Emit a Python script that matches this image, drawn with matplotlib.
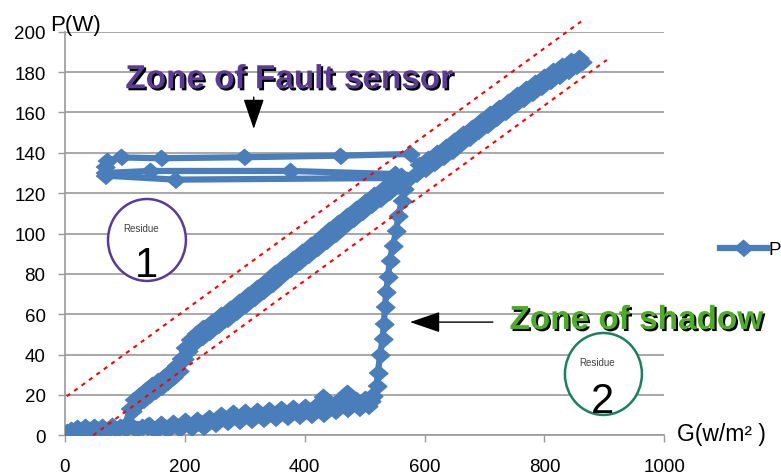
import matplotlib
matplotlib.use("Agg")
import matplotlib.pyplot as plt
import matplotlib.patheffects as pe
from matplotlib.patches import Ellipse

plt.rcParams['font.family'] = ['Liberation Sans', 'DejaVu Sans']

# --- data: G (w/m2) vs P (W), in drawing order ---
start_g = [0, 3, 6, 10, 15, 20, 26, 33, 40, 48, 55, 62, 70, 78, 85, 92, 100, 110, 118, 128, 137]
start_p = [0, 1.5, 0.5, 2.5, 1.5, 3.5, 2, 4, 2.5, 4, 2.5, 4, 2.5, 4.5, 2.5, 4, 3, 4.5, 2.5, 4, 4]

bottom_low_g = [150, 170, 190, 210, 230, 250, 270, 290, 310, 330, 350, 370, 390, 410, 430, 450, 470, 490, 505]
bottom_low_p = [2, 2.5, 3, 3.8, 4.3, 5.5, 6.7, 7.3, 7.7, 8, 8.5, 8.9, 9.5, 10, 10.7, 12, 12.8, 13.5, 14.5]

bottom_high_g = [512, 500, 485, 470, 455, 440, 431, 420, 400, 380, 360, 340, 320, 300, 280, 260, 240, 220, 200, 180, 160, 140]
bottom_high_p = [19.5, 18, 17.5, 21, 17, 16, 19, 15, 14, 13.3, 12.8, 12.3, 12, 11.5, 11, 10, 8.8, 7.8, 7, 6.2, 5.6, 5]

diag_up_g = [105, 112, 120, 130, 140, 150, 160, 170, 180, 190, 198, 205, 215, 228, 240, 255, 270, 285, 300, 315,
             330, 345, 360, 375, 390, 405, 420, 435, 450, 465, 480, 495, 510, 525, 540, 555, 570, 585, 600, 615,
             630, 645, 660, 675, 690, 705, 720, 735, 750, 765, 780, 795, 810, 825, 840, 852, 862]
diag_up_p = [6, 12, 15.5, 17.5, 20, 22, 24, 26.5, 29, 32, 38, 42, 45.5, 48.5, 51, 54.5, 57.5, 61, 64.5, 68,
             71.5, 75, 79, 82.5, 86, 89.5, 93, 96.5, 100, 103.5, 107, 110.5, 114, 117, 120.5, 123.5, 126.5, 129.5, 132, 135,
             138, 141, 144.5, 147.5, 151, 154, 157, 160, 163.5, 166.5, 169.5, 172.5, 175.5, 178, 180.5, 183, 185]

diag_down_top_g = [858, 845, 830, 815, 800, 785, 770, 755, 740, 725, 710, 695, 680, 665, 650, 635, 620, 605, 590]
diag_down_top_p = [187, 185.5, 183, 180.5, 177.5, 174.5, 171.5, 168.5, 165, 162, 159, 156, 152.5, 149.5, 146, 143, 140, 137, 134]

fault_high_g = [576, 459, 299, 160, 93, 70, 66, 67]
fault_high_p = [139.4, 138.6, 137.8, 137.3, 137.7, 136, 133, 130]
fault_mid_g = [142, 375, 550]
fault_mid_p = [131, 131, 129.5]

diag_down_rest_g = [560, 545, 530, 515, 500, 485, 470, 455, 440, 425, 410, 395, 380, 365, 350, 335, 320, 305,
                    290, 275, 260, 245, 230, 218, 208, 200, 193, 185, 175, 165, 155, 145, 135, 125, 115, 108]
diag_down_rest_p = [128.5, 125.5, 122, 119, 115.5, 112, 108.5, 105, 101.5, 98, 94.5, 91, 87.5, 84, 80.5, 76.5, 73, 69.5,
                    66, 62.5, 59.5, 56, 53, 50, 47, 43.5, 38, 34.5, 31.5, 29, 27, 25, 22.5, 20, 17.5, 13]

bottom_mid_g = [100, 137, 157, 177, 197, 217, 237, 257, 277, 297, 317, 337, 357, 377, 397, 417, 437, 457, 477, 497, 510]
bottom_mid_p = [4, 4.5, 4.3, 4.8, 5.4, 6, 6.8, 7.8, 9, 9.5, 9.8, 10.2, 10.7, 11.2, 11.7, 12.5, 13.5, 14.3, 15.2, 16.2, 17]

shadow_g = [514, 520, 522, 526, 530, 532, 534, 536, 539, 542, 547, 553, 556, 562, 566]
shadow_p = [19.5, 24.5, 31, 40, 47.7, 55, 63.6, 71, 78.5, 86.5, 94, 101.4, 108.6, 116, 122]

fault_low_g = [545, 184, 67]
fault_low_p = [127.5, 126.7, 128.7]

# red dotted guide lines (end points)
guide_upper_g = [3, 861]
guide_upper_p = [19.3, 205]
guide_lower_g = [47, 904]
guide_lower_p = [0, 186]

x_ticks = [0, 200, 400, 600, 800, 1000]
y_ticks = [0, 20, 40, 60, 80, 100, 120, 140, 160, 180, 200]

BLUE = '#4a7ebb'
GRID = '#9a9a9a'

g = (start_g + bottom_low_g + bottom_high_g + diag_up_g + diag_down_top_g + fault_high_g + fault_mid_g
     + diag_down_rest_g + bottom_mid_g + shadow_g + fault_low_g)
p = (start_p + bottom_low_p + bottom_high_p + diag_up_p + diag_down_top_p + fault_high_p + fault_mid_p
     + diag_down_rest_p + bottom_mid_p + shadow_p + fault_low_p)

diamond = [(-1, 0), (0, 0.87), (1, 0), (0, -0.87)]

fig = plt.figure(figsize=(7.81, 4.77), dpi=100)
ax = fig.add_axes([0.0832, 0.0853, 0.7673, 0.8461])

ax.plot(g, p, color=BLUE, lw=4.5, marker=diamond, ms=13.5, mew=1, mec=BLUE, mfc=BLUE,
        solid_joinstyle='round', label='P', zorder=3)

ax.plot(guide_upper_g, guide_upper_p, color='red', lw=1.5, ls=(0, (2, 2.4)), clip_on=False, zorder=4)
ax.plot(guide_lower_g, guide_lower_p, color='red', lw=1.5, ls=(0, (2, 2.4)), clip_on=False, zorder=4)

ax.set_xlim(0, 1000)
ax.set_ylim(0, 200)
ax.set_xticks(x_ticks)
ax.set_yticks(y_ticks)
ax.tick_params(axis='x', direction='out', length=5, width=1, color=GRID, labelsize=13.5, pad=11)
ax.tick_params(axis='y', direction='out', length=5, width=1, color=GRID, labelsize=13.5, pad=9)
ax.yaxis.grid(True, color=GRID, lw=1.2)
ax.set_axisbelow(True)
for side in ['top', 'right']:
    ax.spines[side].set_visible(False)
for side in ['left', 'bottom']:
    ax.spines[side].set_color(GRID)
    ax.spines[side].set_linewidth(1.2)

# axis titles
ax.text(-25, 201, "P(W)", fontsize=16, ha='left', va='baseline', clip_on=False)
ax.text(1021, -2.2, "G(w/m² )", fontsize=16.5, ha='left', va='baseline', clip_on=False)

# zone labels with shadow
shadow = [pe.SimplePatchShadow(offset=(1.5, -1.5), shadow_rgbFace='black', alpha=1.0), pe.Normal()]
ax.text(375, 172, "Zone of Fault sensor", fontsize=24, fontweight='bold', color='#5b3b94',
        ha='center', va='baseline', path_effects=shadow, zorder=6)
ax.text(954, 52.7, "Zone of shadow", fontsize=24, fontweight='bold', color='#4caf22',
        ha='center', va='baseline', path_effects=shadow, zorder=6, clip_on=False)

# arrows
ax.annotate("", xy=(315, 151.8), xytext=(315, 167.6),
            arrowprops=dict(arrowstyle='-|>,head_length=1.9,head_width=0.65', color='black', lw=1,
                            shrinkA=0, shrinkB=0), zorder=6)
ax.annotate("", xy=(575.7, 56.1), xytext=(714, 56.1),
            arrowprops=dict(arrowstyle='-|>,head_length=1.9,head_width=0.65', color='black', lw=1,
                            shrinkA=0, shrinkB=0), zorder=6)

# residue circles
ax.add_patch(Ellipse((136.8, 96.8), 130, 40.6, facecolor='white', edgecolor='#5b3b9a', lw=1.8, zorder=5))
ax.text(127.3, 101.4, "Residue", fontsize=7, color='#404040', ha='center', va='baseline', zorder=6)
ax.text(136.3, 78.8, "1", fontsize=30, color='black', ha='center', va='baseline', zorder=6)

ax.add_patch(Ellipse((898.5, 30.4), 128.5, 40.6, facecolor='white', edgecolor='#1b7f61', lw=1.8, zorder=5))
ax.text(887.2, 34.8, "Residue", fontsize=7, color='#404040', ha='center', va='baseline', zorder=6)
ax.text(896.9, 11.4, "2", fontsize=30, color='black', ha='center', va='baseline', zorder=6)

fig.legend(loc='center left', bbox_to_anchor=(720 / 781, 1 - 250.7 / 477), frameon=False,
           fontsize=13.5, handlelength=2.5, handletextpad=0.1, borderpad=0, borderaxespad=0,
           numpoints=1)

fig.savefig("out.png", dpi=100)
